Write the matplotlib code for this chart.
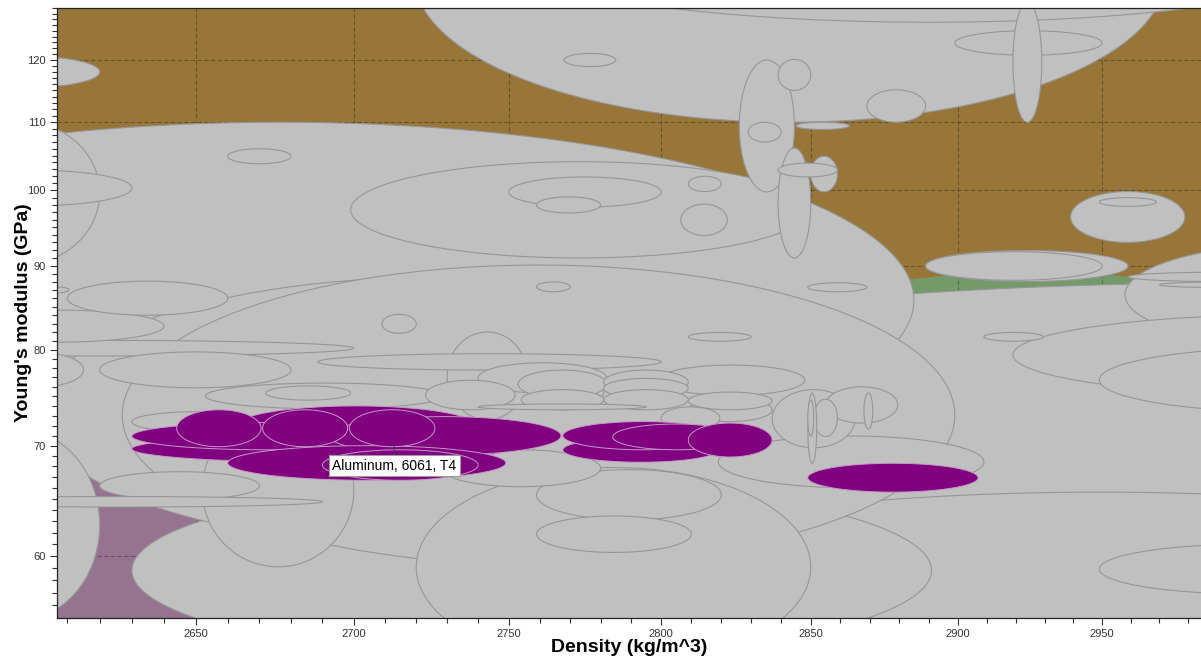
import numpy as np
import matplotlib
matplotlib.use('Agg')
from matplotlib import pyplot as plt
from matplotlib.ticker import FixedLocator, FixedFormatter, NullFormatter

plt.rcParams['font.family'] = ['Liberation Sans', 'DejaVu Sans']

# family envelopes (density kg/m^3, Young's modulus GPa)
env_dens_lo = [2490, 2840]
env_dens_hi = [2692, 3013]
env_mod_lo = [31.4, 75.9]
env_mod_hi = [68.6, 89.2]
env_colors = ['#96738f', '#749a69']

# other materials (grey bubbles), in drawing order
dens_lo = [2667, 2483, 2719.5, 2754, 2747, 2630, 2601.5, 2627, 2720, 2958, 2919, 2949, 2699,
           2571, 2652, 2571, 2949, 2819, 2759, 2542, 2567, 2826, 2730, 2620, 2575.5,
           2889, 2653, 2939, 2728, 2688.5, 2759, 2610, 2889, 2731.5, 2837, 2750, 2620,
           2577, 2799, 2564, 2740, 2839, 2899, 2919, 2588, 2723, 2855, 2630, 2753,
           2781, 2809, 2869, 2781, 2781, 2754, 2959, 2809, 2806.5, 2800, 2672, 2740,
           2850, 2759, 2839, 2660, 2851, 2839, 2970, 2849, 2768, 2709, 2829, 2809,
           2849, 2909, 2949, 2809, 2845, 2759, 2868, 2849, 2602]
dens_hi = [3379, 2885, 2972, 3034, 3166, 2891, 2860, 2899, 2850, 3083, 3124, 3093, 2849,
           2620, 2700, 2620, 3056, 2909, 2820, 2700, 2630, 2844.5, 2756, 2680, 2640,
           2959, 2729, 2979, 2780, 2800, 2810, 2660, 2950, 2781, 2865, 2800, 2670,
           2620, 2848, 2690, 2782, 2850, 2950, 2929, 2615, 2752, 2879.5, 2670, 2782,
           2809, 2837, 2889, 2809, 2809, 2781, 3024, 2837, 2822, 2819.5, 2699, 2795,
           2859, 2780, 2850, 2680, 2859, 2859, 3020, 2852, 2785, 2720, 2840, 2830,
           2869, 2929.5, 2969, 2820, 2863, 2770, 2871, 2851, 2610.5]
mod_lo = [52.1, 66.9, 110.0, 126.5, 47.2, 52.0, 60.76, 59.25, 51.4, 80.5, 75.1, 73.3, 91.0,
          54.9, 59.1, 90.1, 56.9, 66.0, 63.1, 79.35, 97.85, 99.8, 72.6, 75.9, 80.9,
          88.05, 73.7, 93.0, 66.1, 77.8, 60.3, 84.0, 88.2, 73.7, 69.8, 97.7, 64.9,
          115.5, 75.1, 64.25, 75.35, 91.0, 120.8, 110.0, 76.0, 73.6, 72.25, 71.35, 74.8,
          75.2, 72.4, 110.0, 74.8, 73.6, 73.6, 88.05, 73.6, 93.9, 71.6, 74.6, 73.6,
          99.8, 96.9, 115.0, 103.8, 70.9, 101.9, 87.3, 68.3, 118.9, 81.9, 107.0, 81.0,
          86.8, 81.0, 97.8, 99.85, 108.9, 86.8, 71.65, 70.95, 86.65]
mod_hi = [87.9, 110.0, 165.0, 150.5, 65.6, 66.5, 88.6, 90.1, 67.9, 92.8, 84.1, 80.35, 104.1,
          71.55, 73.3, 110.2, 61.0, 70.95, 67.7, 81.1, 102.9, 120.0, 82.05, 79.8, 84.6,
          91.95, 76.4, 99.85, 69.6, 79.6, 63.45, 88.1, 91.8, 77.05, 75.7, 101.9, 67.5,
          120.6, 78.35, 65.2, 78.6, 106.1, 125.0, 130.1, 79.7, 76.7, 76.0, 73.4, 77.8,
          77.8, 74.8, 115.1, 76.9, 75.7, 75.7, 89.2, 75.45, 98.1, 73.9, 76.1, 74.2,
          104.9, 99.1, 120.1, 106.0, 74.7, 103.9, 88.0, 75.35, 121.1, 84.1, 110.0, 82.0,
          87.9, 82.0, 99.0, 102.0, 110.0, 88.0, 75.35, 74.6, 87.4]

# highlighted aluminium alloys
al_dens_lo = [2662, 2630, 2630, 2692, 2660, 2690, 2644, 2671, 2698.6, 2767.6, 2767.6, 2784, 2809, 2849]
al_dens_hi = [2740, 2750, 2715, 2767, 2749, 2740, 2670.5, 2698, 2726, 2819, 2820.5, 2826, 2837, 2907]
al_mod_lo = [69.8, 68.4, 69.6, 69.1, 66.7, 66.7, 69.9, 69.9, 69.9, 68.4, 69.6, 69.6, 68.9, 65.6]
al_mod_hi = [74.0, 71.0, 72.3, 72.9, 70.0, 69.6, 73.6, 73.6, 73.6, 70.8, 72.4, 72.15, 72.25, 68.3]

hover_label = 'Aluminum, 6061, T4'
hover_dens, hover_mod = 2713, 70.0

x_ticks = [2650, 2700, 2750, 2800, 2850, 2900, 2950]
y_ticks = [60, 70, 80, 90, 100, 110, 120]


def bubble(d0, d1, e0, e1, n=360):
    # ellipse inscribed in the property box, drawn in log-log space
    t = np.linspace(0, 2 * np.pi, n)
    lx0, lx1 = np.log(d0), np.log(d1)
    ly0, ly1 = np.log(e0), np.log(e1)
    x = np.exp((lx0 + lx1) / 2 + (lx1 - lx0) / 2 * np.cos(t))
    y = np.exp((ly0 + ly1) / 2 + (ly1 - ly0) / 2 * np.sin(t))
    return x, y


fig = plt.figure(figsize=(12.01, 6.61), dpi=100)
ax = fig.add_axes([57 / 1201, 43 / 661, 1144 / 1201, 610 / 661])
ax.set_xscale('log')
ax.set_yscale('log')
ax.set_facecolor('#98763a')

for i in range(len(env_dens_lo)):
    x, y = bubble(env_dens_lo[i], env_dens_hi[i], env_mod_lo[i], env_mod_hi[i])
    ax.fill(x, y, color=env_colors[i], lw=0, zorder=0.3)

# dashed grid sits on the envelopes but under the bubbles
for v in x_ticks:
    ax.axvline(v, color='black', alpha=0.3, linestyle=(0, (4, 2)), linewidth=0.8, zorder=0.5)
for v in y_ticks:
    ax.axhline(v, color='black', alpha=0.3, linestyle=(0, (4, 2)), linewidth=0.8, zorder=0.5)

for i in range(len(dens_lo)):
    x, y = bubble(dens_lo[i], dens_hi[i], mod_lo[i], mod_hi[i])
    ax.fill(x, y, facecolor='#c0c0c0', edgecolor='#969696', lw=0.8, zorder=1)

for i in range(len(al_dens_lo)):
    x, y = bubble(al_dens_lo[i], al_dens_hi[i], al_mod_lo[i], al_mod_hi[i])
    ax.fill(x, y, facecolor='#800080', edgecolor='#c49ac4', lw=0.7, zorder=2)

ax.annotate(hover_label, xy=(hover_dens, hover_mod), xytext=(0, -20),
            textcoords='offset pixels', ha='center', va='center', fontsize=10,
            bbox=dict(boxstyle='square,pad=0.25', fc='white', ec='#9a9a9a', lw=0.8),
            arrowprops=dict(arrowstyle='-', color='#444444', lw=0.8, shrinkA=0, shrinkB=0),
            zorder=5)

ax.set_xlim(2606.8, 2984.7)
ax.set_ylim(55.02, 129.04)

ax.xaxis.set_major_locator(FixedLocator(x_ticks))
ax.xaxis.set_major_formatter(FixedFormatter([str(v) for v in x_ticks]))
ax.xaxis.set_minor_locator(FixedLocator(np.arange(2610, 2990, 10)))
ax.xaxis.set_minor_formatter(NullFormatter())
ax.yaxis.set_major_locator(FixedLocator(y_ticks))
ax.yaxis.set_major_formatter(FixedFormatter([str(v) for v in y_ticks]))
ax.yaxis.set_minor_locator(FixedLocator(np.arange(56, 130, 1)))
ax.yaxis.set_minor_formatter(NullFormatter())

ax.tick_params(which='both', direction='out', color='#333333', labelcolor='#333333',
               labelsize=8, width=0.8)
ax.tick_params(which='major', length=5, pad=3)
ax.tick_params(which='minor', length=3.5)

ax.spines['right'].set_visible(False)
for s in ['left', 'bottom', 'top']:
    ax.spines[s].set_color('#222222')
    ax.spines[s].set_linewidth(0.9)

ax.set_xlabel('Density (kg/m^3)', fontsize=14, fontweight='bold')
ax.set_ylabel("Young's modulus (GPa)", fontsize=14, fontweight='bold')
ax.xaxis.set_label_coords(0.5, -0.034)
ax.yaxis.set_label_coords(-0.022, 0.5)

fig.savefig('out.png', dpi=100)
